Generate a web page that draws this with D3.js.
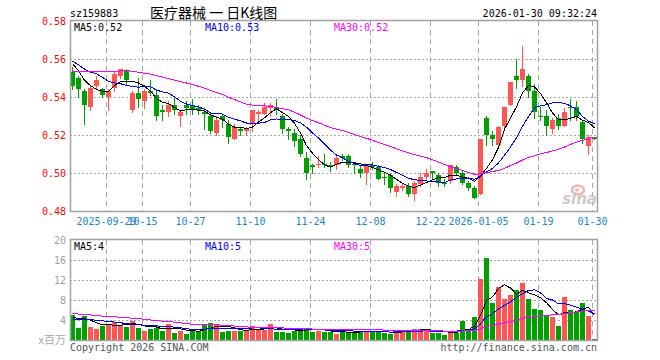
<!DOCTYPE html>
<html>
<head>
<meta charset="utf-8">
<script src="https://cdn.jsdelivr.net/npm/d3@7"></script>
<style>
  body { margin: 0; background: #fff; }
  svg { display: block; font-family: "DejaVu Sans Mono", monospace; }
</style>
</head>
<body>
<svg class="chart" width="660" height="360"></svg>
<script>
// DATA /////////////////////////////////////////
const dates = [
  "2025-09-19","2025-09-22","2025-09-23","2025-09-24","2025-09-25","2025-09-26","2025-09-29","2025-09-30",
  "2025-10-09","2025-10-10","2025-10-13","2025-10-14","2025-10-15","2025-10-16","2025-10-17","2025-10-20",
  "2025-10-21","2025-10-22","2025-10-23","2025-10-24","2025-10-27","2025-10-28","2025-10-29","2025-10-30","2025-10-31",
  "2025-11-03","2025-11-04","2025-11-05","2025-11-06","2025-11-07","2025-11-10","2025-11-11","2025-11-12","2025-11-13",
  "2025-11-14","2025-11-17","2025-11-18","2025-11-19","2025-11-20","2025-11-21","2025-11-24","2025-11-25","2025-11-26",
  "2025-11-27","2025-11-28",
  "2025-12-01","2025-12-02","2025-12-03","2025-12-04","2025-12-05","2025-12-08","2025-12-09","2025-12-10","2025-12-11",
  "2025-12-12","2025-12-15","2025-12-16","2025-12-17","2025-12-18","2025-12-19","2025-12-22","2025-12-23","2025-12-24",
  "2025-12-25","2025-12-26","2025-12-29","2025-12-30","2025-12-31",
  "2026-01-05","2026-01-06","2026-01-07","2026-01-08","2026-01-09","2026-01-12","2026-01-13","2026-01-14","2026-01-15",
  "2026-01-16","2026-01-19","2026-01-20","2026-01-21","2026-01-22","2026-01-23","2026-01-26","2026-01-27","2026-01-28",
  "2026-01-29","2026-01-30"
];

const open = [
  0.553,0.550,0.543,0.535,0.546,0.544,0.540,0.545,0.551,0.554,
  0.533,0.542,0.538,0.543,0.541,0.533,0.532,0.536,0.530,0.536,
  0.536,0.534,0.532,0.530,0.521,0.530,0.526,0.518,0.523,0.522,
  0.526,0.531,0.531,0.534,0.534,0.530,0.523,0.521,0.518,0.508,
  0.504,0.504,0.505,0.504,0.504,0.509,0.509,0.505,0.502,0.500,
  0.504,0.503,0.498,0.499,0.490,0.492,0.493,0.489,0.494,0.498,
  0.501,0.499,0.495,0.496,0.503,0.500,0.495,0.492,0.489,0.529,
  0.520,0.515,0.525,0.536,0.551,0.549,0.551,0.543,0.530,0.530,
  0.523,0.529,0.525,0.535,0.535,0.527,0.514,0.519
];
const high = [
  0.556,0.551,0.544,0.546,0.551,0.545,0.544,0.553,0.555,0.555,
  0.543,0.550,0.544,0.549,0.544,0.536,0.538,0.540,0.533,0.538,
  0.539,0.536,0.534,0.532,0.530,0.531,0.528,0.526,0.524,0.524,
  0.533,0.533,0.537,0.537,0.539,0.531,0.524,0.523,0.520,0.511,
  0.505,0.509,0.510,0.506,0.509,0.510,0.510,0.506,0.504,0.504,
  0.506,0.504,0.500,0.500,0.494,0.495,0.495,0.496,0.500,0.502,
  0.501,0.500,0.497,0.504,0.504,0.501,0.496,0.493,0.518,0.530,
  0.522,0.525,0.535,0.548,0.560,0.567,0.552,0.547,0.535,0.533,
  0.529,0.531,0.534,0.539,0.538,0.528,0.520,0.519
];
const low = [
  0.544,0.540,0.526,0.533,0.545,0.540,0.533,0.543,0.550,0.547,
  0.532,0.535,0.534,0.541,0.528,0.528,0.530,0.531,0.525,0.531,
  0.531,0.531,0.523,0.521,0.520,0.524,0.516,0.518,0.520,0.520,
  0.522,0.527,0.531,0.530,0.531,0.521,0.518,0.514,0.509,0.497,
  0.500,0.503,0.503,0.501,0.502,0.507,0.503,0.500,0.498,0.494,
  0.502,0.497,0.494,0.490,0.488,0.491,0.488,0.486,0.493,0.497,
  0.497,0.493,0.493,0.495,0.499,0.494,0.491,0.487,0.489,0.515,
  0.515,0.515,0.523,0.536,0.545,0.546,0.540,0.529,0.528,0.520,
  0.521,0.523,0.525,0.528,0.528,0.516,0.510,0.518
];
const close = [
  0.546,0.544,0.536,0.545,0.549,0.541,0.543,0.552,0.555,0.549,
  0.542,0.539,0.543,0.542,0.530,0.532,0.536,0.533,0.532,0.534,
  0.533,0.533,0.531,0.522,0.528,0.528,0.519,0.524,0.522,0.523,
  0.533,0.532,0.535,0.536,0.533,0.523,0.522,0.517,0.510,0.500,
  0.503,0.505,0.504,0.503,0.508,0.508,0.504,0.504,0.500,0.504,
  0.503,0.497,0.498,0.492,0.493,0.493,0.489,0.495,0.498,0.500,
  0.500,0.495,0.495,0.504,0.500,0.495,0.492,0.487,0.518,0.520,
  0.518,0.524,0.535,0.548,0.549,0.555,0.543,0.532,0.530,0.525,
  0.528,0.525,0.532,0.534,0.530,0.518,0.519,0.518
];
// volume, millions of shares
const volume = [
  5.0,2.5,4.8,2.7,2.3,2.9,3.0,3.7,3.0,2.7,
  3.9,2.5,1.9,2.2,2.5,1.9,3.3,1.5,1.9,1.3,
  1.9,1.9,3.3,3.5,3.1,1.7,1.9,1.9,1.8,2.1,
  2.9,2.1,2.1,3.3,1.7,1.7,1.5,1.9,2.5,2.5,
  1.6,1.9,1.6,1.6,1.3,1.7,1.7,1.5,1.8,1.7,
  1.8,1.7,1.4,1.3,1.5,2.1,1.9,2.2,2.3,1.9,
  1.5,1.5,1.1,1.7,1.5,3.9,2.1,4.7,12.3,16.5,
  7.5,10.6,8.3,9.1,10.1,11.5,8.3,6.3,6.1,5.1,
  4.7,2.9,8.7,6.1,5.7,7.5,4.9,0.3
];
// sessions before the visible window, only used to warm up the moving averages
const prevClose = [
  0.541,0.543,0.546,0.544,0.547,0.545,0.548,0.544,0.544,
  0.552,0.555,0.558,0.556,0.554,0.557,0.559,0.556,0.555,0.557,0.556,
  0.562,0.559,0.561,0.558,0.560,0.563,0.561,0.559,0.559
];
const prevVolume = [
  6.2,5.4,7.1,5.8,6.5,4.9,5.3,6.8,5.6,6.0,5.2,6.4,5.7,6.1,5.5,4.8,6.3,5.9,5.6,5.9,
  3.6,4.1,3.5,4.0,3.8,
  4.3,4.8,4.2,4.8
];

const tickDates = ["2025-09-29","2025-10-15","2025-10-27","2025-11-10","2025-11-24",
  "2025-12-08","2025-12-22","2026-01-05","2026-01-19","2026-01-30"];
const tickLabels = ["2025-09-29","10-15","10-27","11-10","11-24",
  "12-08","12-22","2026-01-05","01-19","01-30"];
const priceTicks = [0.48, 0.50, 0.52, 0.54, 0.56, 0.58];
const volTicks = [4, 8, 12, 16, 20];
const maPeriods = [5, 10, 30];
const maColors = ["#000000", "#0000ff", "#ff00ff"];

// DEFINITIONS //////////////////////////////////
const plotL = 70, plotR = 597;
const priceTop = 21, priceBot = 211;
const volTop = 240, volBot = 340;
const UP = "#ff5555", DOWN = "#00a000";
const n = dates.length;

const svg = d3.select(".chart");

const x = d3.scaleLinear().domain([0, n - 1]).range([plotL, plotL + 6 * (n - 1)]);
const xc = (i) => x(i) + 2.5;
const y = d3.scaleLinear().domain([0.48, 0.58]).range([priceBot, priceTop]);
const yv = d3.scaleLinear().domain([0, 20]).range([volBot, volTop]);

const movingAvg = (vals, prev, p) => {
  const all = prev.concat(vals);
  return vals.map((_, i) => d3.mean(all.slice(prev.length + i - p + 1, prev.length + i + 1)));
};
const priceMA = maPeriods.map((p) => movingAvg(close, prevClose, p));
const volMA = maPeriods.map((p) => movingAvg(volume, prevVolume, p));

const isUp = (i) => close[i] > open[i];
const tickIdx = tickDates.map((d) => dates.indexOf(d));

// GRID /////////////////////////////////////////
const grid = svg.append("g").attr("stroke", "#a8a8a8").attr("shape-rendering", "crispEdges");

[[priceTop, priceBot], [volTop, volBot]].forEach(([t, b]) => {
  grid.selectAll(null)
    .data(tickIdx)
    .join("line")
    .attr("x1", (i) => x(i) + 0.5).attr("x2", (i) => x(i) + 0.5)
    .attr("y1", t).attr("y2", b)
    .attr("stroke-dasharray", "5,4");
});

grid.selectAll(null)
  .data(priceTicks.slice(1, -1))
  .join("line")
  .attr("x1", plotL).attr("x2", plotR)
  .attr("y1", (d) => Math.round(y(d)) + 0.5).attr("y2", (d) => Math.round(y(d)) + 0.5)
  .attr("stroke-dasharray", "2,2");

grid.selectAll(null)
  .data(volTicks.slice(0, -1))
  .join("line")
  .attr("x1", plotL).attr("x2", plotR)
  .attr("y1", (d) => yv(d) + 0.5).attr("y2", (d) => yv(d) + 0.5)
  .attr("stroke-dasharray", "2,2");

// WATERMARK ////////////////////////////////////
const wm = svg.append("g").attr("opacity", 0.85);
wm.append("ellipse").attr("cx", 578).attr("cy", 190).attr("rx", 6).attr("ry", 4.5)
  .attr("fill", "none").attr("stroke", "#f2a4a4").attr("stroke-width", 2.5);
wm.append("circle").attr("cx", 577).attr("cy", 190).attr("r", 1.8).attr("fill", "#f2a4a4");
wm.append("text").attr("x", 597).attr("y", 204).attr("text-anchor", "end")
  .attr("font-family", "DejaVu Sans").attr("font-size", 15).attr("font-style", "italic")
  .attr("font-weight", "bold").attr("fill", "#c4c4c4").text("sina");

// CANDLES //////////////////////////////////////
const candles = svg.append("g").attr("shape-rendering", "crispEdges");
const idx = d3.range(n);

candles.selectAll(".wick")
  .data(idx)
  .join("line")
  .attr("class", "wick")
  .attr("x1", (i) => x(i) + 2.5).attr("x2", (i) => x(i) + 2.5)
  .attr("y1", (i) => y(high[i])).attr("y2", (i) => y(low[i]) + 1)
  .attr("stroke", (i) => (isUp(i) ? UP : DOWN));

candles.selectAll(".body")
  .data(idx)
  .join("rect")
  .attr("class", "body")
  .attr("x", (i) => x(i))
  .attr("width", 5)
  .attr("y", (i) => y(Math.max(open[i], close[i])))
  .attr("height", (i) => Math.max(1, Math.abs(y(open[i]) - y(close[i]))))
  .attr("fill", (i) => (isUp(i) ? UP : DOWN));

// VOLUME BARS //////////////////////////////////
svg.append("g").attr("shape-rendering", "crispEdges")
  .selectAll("rect")
  .data(idx)
  .join("rect")
  .attr("x", (i) => x(i))
  .attr("width", 5)
  .attr("y", (i) => yv(volume[i]))
  .attr("height", (i) => volBot - yv(volume[i]))
  .attr("fill", (i) => (isUp(i) ? UP : DOWN));

// MOVING AVERAGES //////////////////////////////
const priceLine = d3.line().x((d, i) => xc(i)).y((d) => y(d));
const volLine = d3.line().x((d, i) => xc(i)).y((d) => yv(d));

maPeriods.forEach((p, k) => {
  svg.append("path").attr("d", priceLine(priceMA[k]))
    .attr("fill", "none").attr("stroke", maColors[k]).attr("stroke-width", 1)
    .attr("shape-rendering", "crispEdges");
  svg.append("path").attr("d", volLine(volMA[k]))
    .attr("fill", "none").attr("stroke", maColors[k]).attr("stroke-width", 1)
    .attr("shape-rendering", "crispEdges");
});

// FRAMES ///////////////////////////////////////
[[priceTop, priceBot], [volTop, volBot]].forEach(([t, b]) => {
  svg.append("rect")
    .attr("x", plotL + 0.5).attr("y", t - 0.5)
    .attr("width", plotR - plotL).attr("height", b - t + 1)
    .attr("fill", "none").attr("stroke", "#a0a0a0").attr("stroke-width", 1.5);
});

// AXES /////////////////////////////////////////
const styleAxis = (g, color) => {
  g.select(".domain").remove();
  g.attr("font-family", "DejaVu Sans Mono").attr("font-size", 10);
  g.selectAll("text").attr("fill", color);
};

svg.append("g")
  .attr("transform", `translate(0, ${priceBot + 7})`)
  .call(d3.axisBottom(x).tickValues(tickIdx).tickFormat((d, k) => tickLabels[k]).tickSize(0).tickPadding(0))
  .call((g) => styleAxis(g, "#1a86d0"));

svg.append("g")
  .attr("transform", "translate(66, 0)")
  .call(d3.axisLeft(y).tickValues(priceTicks).tickFormat(d3.format(".2f")).tickSize(0).tickPadding(0))
  .call((g) => styleAxis(g, "#ff0000"));

svg.append("g")
  .attr("transform", "translate(66, 0)")
  .call(d3.axisLeft(yv).tickValues(volTicks).tickFormat(d3.format("d")).tickSize(0).tickPadding(0))
  .call((g) => styleAxis(g, "#a0a0a0"));

svg.append("text").attr("x", 66).attr("y", volBot + 4).attr("text-anchor", "end")
  .attr("font-family", "Noto Sans CJK SC").attr("font-size", 11).attr("fill", "#a8a8a8").text("x百万");

// LABELS ///////////////////////////////////////
const mono = (sel) => sel.attr("font-family", "DejaVu Sans Mono").attr("font-size", 10);
const last = n - 1;
const labelX = [74, 205, 334];

maPeriods.forEach((p, k) => {
  svg.append("text").call(mono).attr("x", labelX[k]).attr("y", priceTop + 10)
    .attr("fill", maColors[k]).text(`MA${p}:${priceMA[k][last].toFixed(2)}`);
  svg.append("text").call(mono).attr("x", labelX[k]).attr("y", volTop + 10)
    .attr("fill", maColors[k]).text(`MA${p}:${Math.floor(volMA[k][last])}`);
});

svg.append("text").call(mono).attr("x", plotL).attr("y", 17).attr("fill", "#000").text("sz159883");
svg.append("text").attr("x", 150).attr("y", 18)
  .attr("font-family", "Noto Sans CJK SC").attr("font-size", 14).attr("fill", "#000")
  .text("医疗器械 一 日K线图");
svg.append("text").call(mono).attr("x", plotR).attr("y", 17).attr("text-anchor", "end")
  .attr("fill", "#000").text("2026-01-30 09:32:24");

svg.append("text").call(mono).attr("x", plotL).attr("y", 351).attr("fill", "#555")
  .text("Copyright 2026 SINA.COM");
svg.append("text").call(mono).attr("x", plotR).attr("y", 351).attr("text-anchor", "end")
  .attr("fill", "#555").text("http://finance.sina.com.cn");
</script>
</body>
</html>
